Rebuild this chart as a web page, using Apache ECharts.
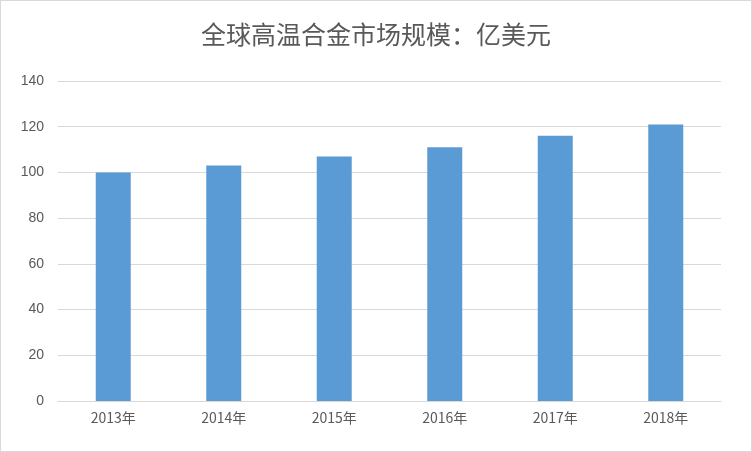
<!DOCTYPE html>
<html>
<head>
<meta charset="utf-8">
<script src="https://cdn.jsdelivr.net/npm/echarts@6/dist/echarts.min.js"></script>
<style>
  html, body { margin: 0; padding: 0; background: #fff; }
  #chart { width: 750px; height: 450px; border: 1px solid #d9d9d9; }
</style>
</head>
<body>
<div id="chart"></div>
<script>
const years = ['2013年', '2014年', '2015年', '2016年', '2017年', '2018年']
const marketSize = [100, 103, 107, 111, 116, 121]
const yTicks = { min: 0, max: 140, interval: 20 }

const chart = echarts.init(document.getElementById('chart'))
chart.setOption({
  animation: false,
  title: {
    text: '全球高温合金市场规模：亿美元',
    left: 'center',
    top: 16,
    textStyle: { fontSize: 25, fontWeight: 'normal', color: '#595959', fontFamily: 'Noto Sans CJK SC' }
  },
  grid: { left: 57, right: 30, top: 80, bottom: 50 },
  xAxis: {
    type: 'category',
    data: years,
    axisLine: { lineStyle: { color: '#d9d9d9' } },
    axisTick: { show: false },
    axisLabel: { color: '#595959', fontSize: 14, margin: 10, fontFamily: 'Noto Sans CJK SC' }
  },
  yAxis: {
    type: 'value',
    min: yTicks.min,
    max: yTicks.max,
    interval: yTicks.interval,
    axisLine: { show: false },
    axisTick: { show: false },
    axisLabel: { color: '#595959', fontSize: 14, margin: 14 },
    splitLine: { lineStyle: { color: '#d9d9d9' } }
  },
  series: [{
    type: 'bar',
    data: marketSize,
    barWidth: 35,
    itemStyle: { color: '#5b9bd5' }
  }]
})
</script>
</body>
</html>
